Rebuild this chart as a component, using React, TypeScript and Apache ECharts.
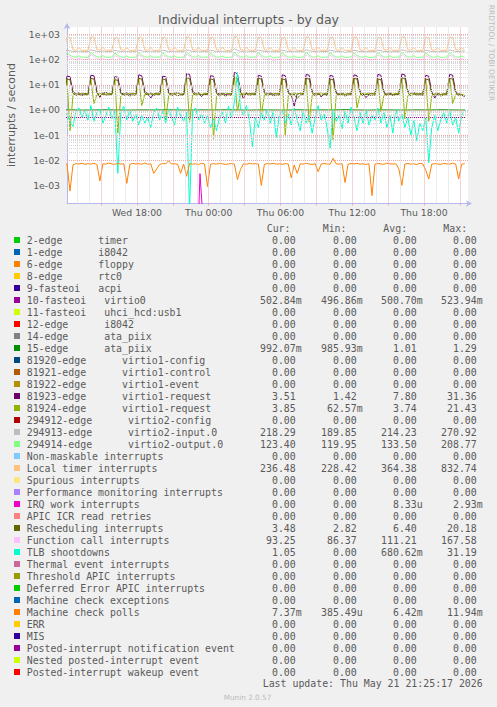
import React, { useEffect, useRef } from 'react';
import * as echarts from 'echarts';

// ---------- texts ----------
const TITLE = 'Individual interrupts - by day';
const Y_TITLE = 'interrupts / second';
const SIDE_TEXT = 'RRDTOOL / TOBI OETIKER';
const LAST_UPDATE = 'Last update: Thu May 21 21:25:17 2026';
const MUNIN_VERSION = 'Munin 2.0.57';
const HEADERS = ['Cur:', 'Min:', 'Avg:', 'Max:'];

// ---------- axes (x in hours since Wed 00:00) ----------
const X_MIN = 12.15;
const X_MAX = 45.68;
const Y_MIN = 1.9e-4;
const Y_MAX = 2000;
const X_LABEL_HOURS = [18, 24, 30, 36, 42];
const X_LABELS = ['Wed 18:00', 'Thu 00:00', 'Thu 06:00', 'Thu 12:00', 'Thu 18:00'];

// sampling of the hand-read series
const SAMPLE_START = 11.9; // 15-minute series
const SAMPLE_STEP = 0.25;
const HOURLY_START = 11.43; // hourly series (flat lines)
const HOURLY_STEP = 1;
const ZERO_STANDIN = 1e-4; // zero cannot be drawn on a log axis: put it under the bottom

// ---------- legend table ----------
const LEGEND_NAMES = [
  '2-edge      timer',
  '1-edge      i8042',
  '6-edge      floppy',
  '8-edge      rtc0',
  '9-fasteoi   acpi',
  '10-fasteoi   virtio0',
  '11-fasteoi   uhci_hcd:usb1',
  '12-edge      i8042',
  '14-edge      ata_piix',
  '15-edge      ata_piix',
  '81920-edge      virtio1-config',
  '81921-edge      virtio1-control',
  '81922-edge      virtio1-event',
  '81923-edge      virtio1-request',
  '81924-edge      virtio1-request',
  '294912-edge      virtio2-config',
  '294913-edge      virtio2-input.0',
  '294914-edge      virtio2-output.0',
  'Non-maskable interrupts',
  'Local timer interrupts',
  'Spurious interrupts',
  'Performance monitoring interrupts',
  'IRQ work interrupts',
  'APIC ICR read retries',
  'Rescheduling interrupts',
  'Function call interrupts',
  'TLB shootdowns',
  'Thermal event interrupts',
  'Threshold APIC interrupts',
  'Deferred Error APIC interrupts',
  'Machine check exceptions',
  'Machine check polls',
  'ERR',
  'MIS',
  'Posted-interrupt notification event',
  'Nested posted-interrupt event',
  'Posted-interrupt wakeup event',
];

const LEGEND_COLORS = [
  '#00CC00', '#0066B3', '#FF8000', '#FFCC00', '#330099', '#990099', '#CCFF00', '#FF0000',
  '#808080', '#008F00', '#00487D', '#B35A00', '#B38F00', '#6B006B', '#8FB300', '#B30000',
  '#BEBEBE', '#80FF80', '#80C9FF', '#FFC080', '#FFE680', '#AA80FF', '#EE00CC', '#FF8080',
  '#666600', '#FFBFFF', '#00FFCC', '#CC6699', '#999900', '#00CC00', '#0066B3', '#FF8000',
  '#FFCC00', '#330099', '#990099', '#CCFF00', '#FF0000',
];

const CUR = [
  '0.00', '0.00', '0.00', '0.00', '0.00', '502.84m', '0.00', '0.00', '0.00', '992.07m',
  '0.00', '0.00', '0.00', '3.51', '3.85', '0.00', '218.29', '123.40', '0.00', '236.48',
  '0.00', '0.00', '0.00', '0.00', '3.48', '93.25', '1.05', '0.00', '0.00', '0.00',
  '0.00', '7.37m', '0.00', '0.00', '0.00', '0.00', '0.00',
];
const MIN = [
  '0.00', '0.00', '0.00', '0.00', '0.00', '496.86m', '0.00', '0.00', '0.00', '985.93m',
  '0.00', '0.00', '0.00', '1.42', '62.57m', '0.00', '189.85', '119.95', '0.00', '228.42',
  '0.00', '0.00', '0.00', '0.00', '2.82', '86.37', '0.00', '0.00', '0.00', '0.00',
  '0.00', '385.49u', '0.00', '0.00', '0.00', '0.00', '0.00',
];
const AVG = [
  '0.00', '0.00', '0.00', '0.00', '0.00', '500.70m', '0.00', '0.00', '0.00', '1.01',
  '0.00', '0.00', '0.00', '7.80', '3.74', '0.00', '214.23', '133.50', '0.00', '364.38',
  '0.00', '0.00', '8.33u', '0.00', '6.40', '111.21', '680.62m', '0.00', '0.00', '0.00',
  '0.00', '6.42m', '0.00', '0.00', '0.00', '0.00', '0.00',
];
const MAX = [
  '0.00', '0.00', '0.00', '0.00', '0.00', '523.94m', '0.00', '0.00', '0.00', '1.29',
  '0.00', '0.00', '0.00', '31.36', '21.43', '0.00', '270.92', '208.77', '0.00', '832.74',
  '0.00', '0.00', '2.93m', '0.00', '20.18', '167.58', '31.19', '0.00', '0.00', '0.00',
  '0.00', '11.94m', '0.00', '0.00', '0.00', '0.00', '0.00',
];

// ---------- series values ----------
// hourly
const VIRTIO0 = [
  0.500, 0.501, 0.499, 0.500, 0.502, 0.500, 0.498,
  0.501, 0.500, 0.503, 0.500, 0.499, 0.501, 0.500,
  0.502, 0.500, 0.499, 0.501, 0.500, 0.500, 0.502,
  0.499, 0.501, 0.500, 0.504, 0.500, 0.499, 0.501,
  0.500, 0.497, 0.501, 0.500, 0.502, 0.500, 0.503,
];
const ATA_PIIX_15 = [
  1.00, 1.01, 0.99, 1.00, 1.02, 1.00, 0.99,
  1.01, 1.00, 1.02, 1.00, 0.99, 1.01, 1.00,
  1.02, 1.00, 0.99, 1.01, 1.00, 0.986, 1.02,
  0.99, 1.01, 1.00, 1.03, 1.00, 0.99, 1.01,
  1.00, 0.99, 1.01, 1.00, 1.02, 1.00, 0.992,
];

// 15-minute
const VIRTIO1_REQ_A = [
  4.6, 22, 21, 5.2, 4.4, 4.8, 4.2, 4.5,
  4.3, 24, 23, 5.5, 3.2, 4.6, 5.0, 4.4,
  4.5, 21, 20, 5.0, 4.2, 4.9, 4.1, 4.6,
  4.4, 25, 23, 5.3, 4.5, 3.0, 4.3, 4.7,
  4.6, 22, 21, 5.1, 4.3, 4.7, 4.8, 4.2,
  4.2, 28, 26, 5.6, 4.4, 4.9, 3.4, 4.5,
  4.5, 23, 22, 5.2, 4.2, 4.6, 4.1, 4.4,
  4.3, 31.36, 27, 5.8, 2.8, 4.8, 4.4, 4.6,
  4.6, 24, 22, 5.3, 4.4, 4.7, 4.2, 4.5,
  4.4, 25, 23, 5.2, 4.1, 1.42, 4.3, 4.6,
  4.5, 26, 24, 5.4, 4.3, 4.8, 3.3, 4.4,
  4.3, 24, 22, 5.1, 4.2, 4.6, 4.1, 4.5,
  4.5, 25, 23, 5.5, 4.4, 3.1, 4.3, 4.6,
  4.4, 26, 24, 5.3, 4.2, 4.7, 4.0, 4.4,
  4.6, 27, 25, 5.6, 4.5, 4.9, 4.3, 4.5,
  4.3, 24, 22, 5.2, 3.0, 4.6, 4.1, 4.4,
  4.5, 26, 24, 5.4, 4.3, 4.0, 3.51,
];
const VIRTIO1_REQ_B = [
  4.2, 17, 0.15, 3.8, 4.6, 4.1, 4.8, 4.3,
  4.5, 16, 1.8, 4.0, 4.4, 4.9, 4.2, 4.6,
  4.3, 18, 0.12, 3.6, 4.5, 4.2, 4.7, 4.4,
  4.6, 17, 1.5, 4.1, 4.3, 4.8, 4.2, 4.5,
  4.4, 16, 0.39, 3.7, 4.6, 4.3, 4.9, 4.2,
  4.5, 18, 0.33, 3.9, 4.4, 4.7, 4.1, 4.6,
  4.2, 17, 0.07, 3.5, 4.5, 4.2, 4.8, 4.3,
  4.6, 21.43, 0.83, 4.2, 4.4, 4.9, 4.3, 4.5,
  4.3, 17, 0.6, 3.9, 4.6, 4.1, 4.7, 4.4,
  4.5, 18, 0.1, 3.6, 4.3, 4.8, 4.2, 4.6,
  4.4, 17, 0.33, 3.8, 4.5, 4.3, 4.9, 4.2,
  4.6, 16, 0.0626, 3.5, 4.4, 4.7, 4.1, 4.5,
  4.3, 18, 1.2, 4.0, 4.6, 4.2, 4.8, 4.4,
  4.5, 17, 0.85, 3.9, 4.3, 4.9, 4.2, 4.6,
  4.4, 19, 0.45, 3.7, 4.5, 4.3, 4.7, 4.3,
  4.6, 17, 0.35, 3.8, 4.4, 4.8, 4.1, 4.5,
  4.3, 18, 1.8, 4.1, 4.5, 4.2, 3.85,
];
const VIRTIO2_INPUT = [
  212, 238, 226, 213, 209, 220, 207, 210,
  210, 245, 230, 215, 210, 224, 208, 211,
  211, 236, 224, 212, 208, 219, 206, 209,
  209, 242, 228, 214, 209, 222, 207, 210,
  210, 240, 226, 213, 209, 220, 206, 209,
  211, 244, 230, 215, 210, 223, 208, 211,
  209, 236, 224, 212, 208, 219, 205, 208,
  210, 270.92, 238, 216, 211, 226, 208, 211,
  211, 240, 227, 213, 209, 221, 207, 210,
  209, 238, 225, 212, 208, 220, 206, 209,
  210, 246, 231, 215, 210, 224, 208, 211,
  211, 240, 226, 213, 209, 220, 189.85, 209,
  209, 238, 225, 212, 208, 219, 206, 209,
  210, 242, 228, 214, 209, 222, 207, 210,
  211, 245, 230, 215, 210, 223, 208, 211,
  209, 238, 225, 212, 208, 220, 206, 209,
  210, 242, 228, 214, 209, 220, 218.29,
];
const VIRTIO2_OUTPUT = [
  126, 190, 150, 130, 125, 142, 124, 126,
  125, 200, 152, 131, 126, 145, 124, 125,
  126, 185, 148, 129, 124, 140, 123, 125,
  125, 195, 150, 130, 125, 143, 124, 126,
  126, 190, 149, 130, 125, 141, 123, 125,
  125, 208.77, 155, 132, 126, 146, 124, 126,
  126, 185, 147, 129, 124, 140, 123, 125,
  125, 200, 152, 131, 126, 145, 124, 126,
  126, 190, 150, 130, 125, 142, 119.95, 125,
  125, 188, 148, 129, 124, 141, 123, 125,
  126, 198, 152, 131, 126, 144, 124, 126,
  125, 190, 150, 130, 125, 142, 123, 125,
  126, 186, 148, 129, 124, 140, 123, 125,
  125, 195, 151, 130, 125, 143, 124, 126,
  126, 200, 152, 131, 126, 145, 124, 125,
  125, 188, 148, 129, 124, 141, 123, 125,
  126, 194, 150, 130, 125, 140, 123.40,
];
const LOCAL_TIMER = [
  240, 790, 770, 250, 238, 300, 234, 237,
  236, 805, 785, 255, 240, 310, 235, 238,
  237, 760, 745, 250, 239, 295, 233, 236,
  235, 790, 770, 248, 238, 305, 232, 236,
  236, 780, 760, 252, 240, 300, 234, 237,
  237, 800, 780, 250, 239, 298, 233, 236,
  235, 770, 750, 247, 238, 302, 232, 235,
  236, 832.74, 800, 256, 241, 310, 235, 238,
  237, 790, 770, 250, 239, 296, 233, 236,
  235, 760, 745, 248, 237, 302, 232, 235,
  236, 800, 780, 252, 240, 306, 234, 237,
  237, 780, 760, 250, 238, 296, 233, 236,
  235, 790, 770, 248, 237, 300, 228.42, 235,
  236, 770, 752, 252, 240, 305, 234, 237,
  237, 810, 790, 250, 239, 300, 233, 236,
  235, 780, 760, 248, 237, 296, 232, 235,
  236, 790, 770, 250, 238, 300, 236.48,
];
const IRQ_WORK: [number, number][] = [[23.17, 0], [23.27, 0.00293], [23.47, 0]];
const RESCHEDULING = [
  4.0, 17, 16, 4.6, 3.8, 4.2, 3.7, 4.1,
  3.9, 18, 17, 4.8, 3.6, 4.3, 3.9, 4.0,
  4.1, 16, 15, 4.5, 3.8, 4.1, 3.6, 4.0,
  3.8, 18, 17, 4.7, 3.9, 4.4, 3.8, 4.1,
  4.0, 17, 16, 4.6, 3.7, 4.2, 3.7, 3.9,
  3.9, 19, 18, 4.9, 3.8, 4.3, 3.9, 4.1,
  4.1, 17, 16, 4.5, 3.6, 4.1, 3.6, 4.0,
  3.8, 20.18, 18, 5.0, 3.9, 4.4, 3.8, 4.1,
  4.0, 18, 17, 4.7, 3.7, 4.2, 3.7, 3.9,
  3.9, 17, 16, 4.6, 3.8, 4.3, 2.82, 4.0,
  4.1, 18, 17, 4.8, 3.6, 4.2, 3.8, 4.1,
  3.8, 17, 16, 4.5, 3.9, 4.1, 3.6, 4.0,
  4.0, 18, 17, 4.7, 3.7, 4.3, 3.8, 3.9,
  3.9, 17, 16, 4.6, 3.8, 4.2, 3.7, 4.1,
  4.1, 19, 18, 4.9, 3.6, 4.4, 3.9, 4.0,
  3.8, 17, 16, 4.5, 3.9, 4.1, 3.6, 4.0,
  4.0, 18, 17, 4.7, 3.7, 3.9, 3.48,
];
const FUNCTION_CALL = [
  103, 150, 128, 107, 101, 118, 99, 102,
  102, 160, 132, 108, 102, 120, 100, 103,
  103, 145, 126, 106, 100, 116, 98, 101,
  101, 155, 130, 107, 101, 119, 99, 102,
  102, 150, 128, 106, 100, 117, 98, 101,
  103, 167.58, 135, 109, 102, 121, 100, 103,
  101, 148, 127, 106, 100, 116, 97, 100,
  102, 158, 131, 108, 102, 120, 99, 102,
  103, 150, 128, 107, 101, 118, 86.37, 101,
  101, 146, 127, 106, 100, 117, 98, 101,
  102, 156, 131, 108, 102, 120, 99, 102,
  103, 150, 128, 107, 101, 118, 98, 101,
  101, 147, 127, 106, 100, 116, 97, 100,
  102, 153, 130, 107, 101, 119, 99, 102,
  103, 158, 131, 108, 102, 120, 99, 102,
  101, 146, 126, 106, 100, 116, 97, 100,
  102, 152, 129, 107, 101, 112, 93.25,
];
const TLB_SHOOTDOWNS = [
  0.6, 0.7, 0.35, 0.22, 0.9, 1.2, 0.5, 1.0,
  0.4, 1.5, 0.35, 0.8, 1.1, 0.3, 0.6, 1.3,
  0.45, 0.9, 0.003, 0.8, 1.4, 0.4, 1.0, 0.35,
  0.7, 0.25, 0.6, 0.3, 0.5, 0.2, 0.8, 1.2,
  0.4, 0.9, 0.3, 1.1, 0.5, 0.25, 1.3, 0.6,
  0.35, 0.8, 0, 0.9, 1.2, 0.4, 0.7, 0.3,
  0.6, 0.2, 0.45, 0.15, 0.5, 0.8, 0.3, 1.4,
  0.5, 2.0, 31.19, 1.2, 0.6, 1.5, 0.4, 0.035,
  0.5, 0.2, 0.8, 0.4, 1.1, 0.3, 0.9, 0.08,
  0.6, 1.0, 0.3, 0.7, 0.25, 1.2, 0.4, 0.15,
  0.9, 0.3, 0.6, 0.12, 0.5, 1.5, 0.4, 0.7,
  0.2, 0.03, 1.1, 0.35, 0.6, 0.18, 0.9, 0.3,
  1.3, 0.5, 0.15, 0.8, 0.3, 1.0, 0.25, 0.6,
  0.4, 1.2, 0.3, 0.8, 0.2, 0.6, 0.12, 1.1,
  0.35, 0.7, 0.2, 0.5, 0.1, 0.4, 0.06, 0.3,
  0.15, 0.5, 0.008, 0.2, 0.6, 0.15, 0.4, 0.8,
  0.3, 1.0, 0.25, 0.5, 0.12, 0.6, 1.05,
];
const MACHINE_CHECK_POLLS = [
  0.0072, 0.0070, 0.0006, 0.0065, 0.0074, 0.0071, 0.0076, 0.0069,
  0.0073, 0.0070, 0.0075, 0.0068, 0.0015, 0.0072, 0.0070, 0.0078,
  0.0071, 0.0069, 0.0074, 0.0070, 0.0072, 0.0012, 0.0068, 0.0075,
  0.0071, 0.0073, 0.0069, 0.0077, 0.0070, 0.0072, 0.0030, 0.0045,
  0.0068, 0.0074, 0.0071, 0.0095, 0.0070, 0.0073, 0.0069, 0.0030,
  0.0071, 0.0023, 0.0074, 0.0070, 0.0072, 0.0068, 0.0076, 0.0071,
  0.0009, 0.0069, 0.0073, 0.0070, 0.0075, 0.0072, 0.0068, 0.0071,
  0.0074, 0.0070, 0.0017, 0.0042, 0.0072, 0.0069, 0.0075, 0.0071,
  0.0073, 0.0070, 0.0010, 0.0068, 0.0074, 0.0071, 0.0076, 0.0070,
  0.0072, 0.0069, 0.0073, 0.0071, 0.0020, 0.0065, 0.0030, 0.0072,
  0.0070, 0.0075, 0.0071, 0.0068, 0.0073, 0.0035, 0.0070, 0.0074,
  0.0071, 0.0069, 0.0119, 0.0072, 0.0070, 0.0073, 0.0013, 0.0069,
  0.0074, 0.0071, 0.0075, 0.0070, 0.0072, 0.0068, 0.0073, 0.00039,
  0.0070, 0.0074, 0.0071, 0.0069, 0.0076, 0.0072, 0.0070, 0.0073,
  0.0045, 0.0010, 0.0071, 0.0074, 0.0070, 0.0072, 0.0068, 0.0075,
  0.0071, 0.0040, 0.0018, 0.0070, 0.0073, 0.0071, 0.0069, 0.0074,
  0.0072, 0.0070, 0.0076, 0.0071, 0.0018, 0.0069, 0.00737,
];

// ---------- helpers ----------
function sampled(start: number, step: number, vals: number[]) {
  return vals.map((v, i) => [start + i * step, v > 0 ? v : ZERO_STANDIN]);
}
function explicitPairs(p: [number, number][]) {
  return p.map(([h, v]) => [h, v > 0 ? v : ZERO_STANDIN]);
}

// which legend rows are drawn (others are all-zero and invisible on a log scale)
const PLOTTED: { idx: number; data: number[][] }[] = [
  { idx: 5, data: sampled(HOURLY_START, HOURLY_STEP, VIRTIO0) },
  { idx: 9, data: sampled(HOURLY_START, HOURLY_STEP, ATA_PIIX_15) },
  { idx: 13, data: sampled(SAMPLE_START, SAMPLE_STEP, VIRTIO1_REQ_A) },
  { idx: 14, data: sampled(SAMPLE_START, SAMPLE_STEP, VIRTIO1_REQ_B) },
  { idx: 16, data: sampled(SAMPLE_START, SAMPLE_STEP, VIRTIO2_INPUT) },
  { idx: 17, data: sampled(SAMPLE_START, SAMPLE_STEP, VIRTIO2_OUTPUT) },
  { idx: 19, data: sampled(SAMPLE_START, SAMPLE_STEP, LOCAL_TIMER) },
  { idx: 22, data: explicitPairs(IRQ_WORK) },
  { idx: 24, data: sampled(SAMPLE_START, SAMPLE_STEP, RESCHEDULING) },
  { idx: 25, data: sampled(SAMPLE_START, SAMPLE_STEP, FUNCTION_CALL) },
  { idx: 26, data: sampled(SAMPLE_START, SAMPLE_STEP, TLB_SHOOTDOWNS) },
  { idx: 31, data: sampled(SAMPLE_START, SAMPLE_STEP, MACHINE_CHECK_POLLS) },
];

const TEXT_COLOR = '#5A5A5A';
const MONO = '"DejaVu Sans Mono", monospace';
const SANS = '"DejaVu Sans", sans-serif';
const MINOR_GRID = '#D6D6D6';
const MAJOR_GRID = '#EFA8A8';
const AXIS_COLOR = '#B4B8EE';

function expLabel(v: number) {
  const l = Math.log10(v);
  const e = Math.round(l);
  if (Math.abs(l - e) > 0.01) return '';
  return `1e${e < 0 ? '-' : '+'}${String(Math.abs(e)).padStart(2, '0')}`;
}

function buildGridLines() {
  const items: any[] = [];
  const dotted = (color: string) => ({ color, width: 1, type: [1, 1] as number[] });
  for (let h = Math.ceil(X_MIN); h < X_MAX; h++) {
    items.push({ xAxis: h, lineStyle: dotted(h % 3 === 0 ? MAJOR_GRID : MINOR_GRID) });
  }
  for (let k = -4; k <= 3; k++) {
    for (let m = 1; m <= 9; m++) {
      const v = m * Math.pow(10, k);
      if (v <= Y_MIN || v >= Y_MAX) continue;
      items.push({ yAxis: v, lineStyle: dotted(m === 1 ? MAJOR_GRID : MINOR_GRID) });
    }
  }
  // line of zero-valued series along the bottom edge
  items.push({ yAxis: Y_MIN, lineStyle: { color: '#F08C8C', width: 1, type: 'solid' } });
  return items;
}

function buildLegend() {
  const els: any[] = [];
  const rowY0 = 240;
  const rowH = 12;
  const textX = 26.7;
  const charW = 5.96;
  const colRight = [301.7, 362.7, 422.7, 482.7];
  const headerX = [266.7, 322.7, 383.3, 443.3];
  HEADERS.forEach((h, i) => {
    els.push({
      type: 'text', x: headerX[i], y: 228,
      style: { text: h, fontFamily: MONO, fontSize: 9.9, fill: TEXT_COLOR, align: 'left', verticalAlign: 'middle' },
    });
  });
  LEGEND_NAMES.forEach((name, i) => {
    const y = rowY0 + i * rowH;
    els.push({ type: 'rect', shape: { x: 14, y: y - 3, width: 6, height: 6 }, style: { fill: LEGEND_COLORS[i] } });
    const parts = name.split(/\s{2,}/);
    let pos = 0;
    parts.forEach((p) => {
      const at = name.indexOf(p, pos);
      pos = at + p.length;
      els.push({
        type: 'text', x: textX + at * charW, y,
        style: { text: p, fontFamily: MONO, fontSize: 9.9, fill: TEXT_COLOR, align: 'left', verticalAlign: 'middle' },
      });
    });
    [CUR[i], MIN[i], AVG[i], MAX[i]].forEach((val, c) => {
      const hasUnit = /[a-zA-Z]$/.test(val);
      els.push({
        type: 'text', x: colRight[c] - (hasUnit ? 0 : charW), y,
        style: { text: val, fontFamily: MONO, fontSize: 9.9, fill: TEXT_COLOR, align: 'right', verticalAlign: 'middle' },
      });
    });
  });
  els.push({
    type: 'text', x: 482.7, y: 683.3,
    style: { text: LAST_UPDATE, fontFamily: MONO, fontSize: 9.9, fill: TEXT_COLOR, align: 'right', verticalAlign: 'middle' },
  });
  return els;
}

export default function App() {
  const ref = useRef<HTMLDivElement>(null);
  useEffect(() => {
    if (!ref.current) return;
    const chart = echarts.init(ref.current, undefined, { renderer: 'svg' });
    const option: any = {
      animation: false,
      backgroundColor: '#F0F0F0',
      grid: {
        left: 67, top: 27, width: 401, height: 176.5,
        show: true, backgroundColor: '#FFFFFF', borderWidth: 0,
      },
      xAxis: {
        type: 'value',
        min: X_MIN,
        max: X_MAX,
        axisLine: {
          show: true, onZero: false,
          lineStyle: { color: AXIS_COLOR, width: 1 },
          symbol: ['none', 'arrow'], symbolSize: [5, 6], symbolOffset: [0, 4],
        },
        axisTick: {
          show: true, length: 2,
          customValues: [15, 18, 21, 24, 27, 30, 33, 36, 39, 42, 45],
          lineStyle: { color: MAJOR_GRID },
        },
        axisLabel: {
          customValues: X_LABEL_HOURS,
          formatter: (v: number) => {
            const k = X_LABEL_HOURS.indexOf(Math.round(v));
            return k >= 0 ? X_LABELS[k] : '';
          },
          fontFamily: SANS, fontSize: 9.3, color: TEXT_COLOR, margin: 4,
        },
        splitLine: { show: false },
      },
      yAxis: {
        type: 'log',
        logBase: 10,
        min: Y_MIN,
        max: Y_MAX,
        splitNumber: 7,
        axisLine: {
          show: true,
          lineStyle: { color: AXIS_COLOR, width: 1 },
          symbol: ['none', 'arrow'], symbolSize: [5, 6], symbolOffset: [0, 4],
        },
        axisTick: { show: false },
        axisLabel: {
          formatter: expLabel, showMinLabel: false, showMaxLabel: false,
          fontFamily: SANS, fontSize: 9.3, color: TEXT_COLOR, margin: 7,
        },
        splitLine: { show: false },
      },
      series: [
        {
          type: 'line', name: 'grid', data: [], silent: true, z: 1,
          markLine: {
            silent: true, symbol: ['none', 'none'], label: { show: false },
            emphasis: { disabled: true }, animation: false,
            data: buildGridLines(),
          },
        },
        ...PLOTTED.map((p) => ({
          type: 'line',
          name: LEGEND_NAMES[p.idx],
          data: p.data,
          showSymbol: false,
          symbol: 'none',
          silent: true,
          clip: true,
          z: 2,
          lineStyle: { color: LEGEND_COLORS[p.idx], width: 1 },
          itemStyle: { color: LEGEND_COLORS[p.idx] },
        })),
      ],
      graphic: [
        {
          type: 'text', x: 248.5, y: 19,
          style: { text: TITLE, fontFamily: SANS, fontSize: 12.5, fill: TEXT_COLOR, align: 'center', verticalAlign: 'middle' },
        },
        {
          type: 'text', x: 11, y: 115, rotation: Math.PI / 2,
          style: { text: Y_TITLE, fontFamily: SANS, fontSize: 11, fill: TEXT_COLOR, align: 'center', verticalAlign: 'middle' },
        },
        {
          type: 'text', x: 491.5, y: 53, rotation: -Math.PI / 2,
          style: { text: SIDE_TEXT, fontFamily: SANS, fontSize: 7.5, fill: '#BBBBBB', align: 'center', verticalAlign: 'middle' },
        },
        {
          type: 'text', x: 247.5, y: 697,
          style: { text: MUNIN_VERSION, fontFamily: SANS, fontSize: 7.3, fill: '#BBBBBB', align: 'center', verticalAlign: 'middle' },
        },
        ...buildLegend(),
      ],
    };
    chart.setOption(option);
    return () => chart.dispose();
  }, []);
  return (
    <div
      ref={ref}
      style={{ position: 'absolute', left: 0, top: 0, width: 497, height: 707, background: '#F0F0F0' }}
    />
  );
}
